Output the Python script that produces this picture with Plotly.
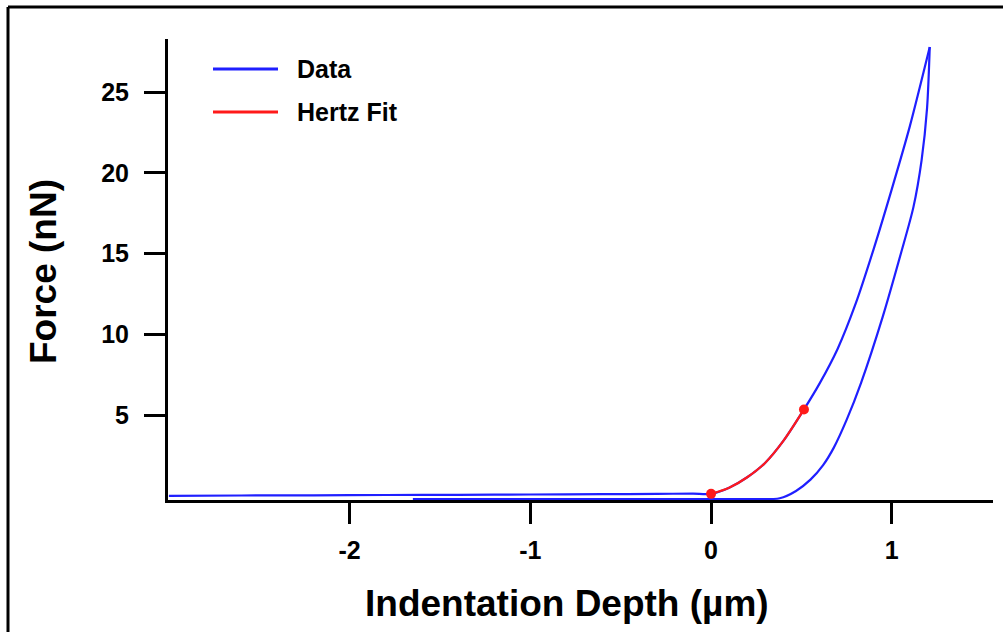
import plotly.graph_objects as go

# Approach (loading) curve, µm vs nN
approach_x = [-3.0, -2.6, -2.2, -1.8, -1.4, -1.0, -0.6, -0.3, -0.1, 0.0, 0.1, 0.2, 0.3, 0.4,
              0.514, 0.6, 0.7, 0.8, 0.9, 1.0, 1.1, 1.21]
approach_y = [0.0, 0.02, 0.03, 0.05, 0.06, 0.08, 0.1, 0.12, 0.13, 0.12, 0.5, 1.15, 2.05, 3.4,
              5.35, 6.95, 9.1, 11.9, 15.3, 19.0, 22.9, 27.8]

# Retract (unloading) curve
retract_x = [1.21, 1.195, 1.165, 1.12, 1.05, 0.95, 0.83, 0.75, 0.68, 0.62, 0.55, 0.47, 0.38,
             0.2, -0.2, -0.8, -1.3, -1.65]
retract_y = [27.8, 24.0, 20.8, 17.9, 15.0, 11.1, 7.0, 4.7, 3.0, 1.9, 1.0, 0.3, -0.15,
             -0.2, -0.2, -0.2, -0.2, -0.2]

# Hertz fit
fit_x = [0.0, 0.1, 0.2, 0.3, 0.4, 0.514]
fit_y = [0.12, 0.5, 1.15, 2.05, 3.4, 5.35]

x_ticks = [-2, -1, 0, 1]
y_ticks = [5, 10, 15, 20, 25]
legend_labels = ["Data", "Hertz Fit"]
legend_colors = ["#1f1fff", "#ff1a1a"]

FONT = "Liberation Sans, Arial, sans-serif"

fig = go.Figure()
fig.add_trace(go.Scatter(x=approach_x, y=approach_y, mode="lines",
                         line=dict(color=legend_colors[0], width=2.2, shape="spline", smoothing=0.8),
                         showlegend=False))
fig.add_trace(go.Scatter(x=retract_x, y=retract_y, mode="lines",
                         line=dict(color=legend_colors[0], width=2.2, shape="spline", smoothing=0.8),
                         showlegend=False))
fig.add_trace(go.Scatter(x=fit_x, y=fit_y, mode="lines",
                         line=dict(color=legend_colors[1], width=2.2, shape="spline", smoothing=0.8),
                         showlegend=False))
fig.add_trace(go.Scatter(x=[fit_x[0], fit_x[-1]], y=[fit_y[0], fit_y[-1]], mode="markers",
                         marker=dict(color=legend_colors[1], size=10), showlegend=False,
                         cliponaxis=False))

axis_common = dict(showline=True, linecolor="black", linewidth=3, ticks="outside",
                   ticklen=21, tickwidth=3, tickcolor="black", showgrid=False,
                   zeroline=False, tickfont=dict(family=FONT, size=25, color="black", weight="bold"))

fig.update_layout(
    width=1003, height=632,
    margin=dict(l=168, r=10, t=39, b=132),
    plot_bgcolor="white", paper_bgcolor="white",
    xaxis=dict(range=[-3.005, 1.56], tickvals=x_ticks, ticktext=[str(v) for v in x_ticks],
               ticklabelstandoff=5, **axis_common),
    yaxis=dict(range=[-0.26, 28.3], tickvals=y_ticks, ticktext=[str(v) for v in y_ticks],
               ticklabelstandoff=10, **axis_common),
    showlegend=False,
)

# Axis titles
fig.add_annotation(xref="paper", yref="paper", x=(567 - 168) / 825, y=(500 - 603) / 461,
                   xanchor="center", yanchor="middle", showarrow=False,
                   text="Indentation Depth (µm)",
                   font=dict(family=FONT, size=37, color="black", weight="bold"))
fig.add_annotation(xref="paper", yref="paper", x=(43 - 168) / 825, y=(500 - 272) / 461,
                   xanchor="center", yanchor="middle", showarrow=False, textangle=-90,
                   text="Force (nN)",
                   font=dict(family=FONT, size=37, color="black", weight="bold"))

# Legend drawn manually (line samples + labels)
for i, (lab, col) in enumerate(zip(legend_labels, legend_colors)):
    ypx = 69 + i * 43
    ypaper = (500 - ypx) / 461
    fig.add_shape(type="line", xref="paper", yref="paper",
                  x0=(213 - 168) / 825, x1=(278 - 168) / 825, y0=ypaper, y1=ypaper,
                  line=dict(color=col, width=3))
    fig.add_annotation(xref="paper", yref="paper", x=(295 - 168) / 825, y=ypaper,
                       xanchor="left", yanchor="middle", showarrow=False, text=lab,
                       font=dict(family=FONT, size=25, color="black", weight="bold"))

# Outer frame (left and top edges visible)
fig.add_shape(type="line", xref="paper", yref="paper",
              x0=(8 - 168) / 825, x1=(8 - 168) / 825, y0=(500 - 7) / 461, y1=(500 - 640) / 461,
              line=dict(color="black", width=3))
fig.add_shape(type="line", xref="paper", yref="paper",
              x0=(8 - 168) / 825, x1=(1010 - 168) / 825, y0=(500 - 7) / 461, y1=(500 - 7) / 461,
              line=dict(color="black", width=3))

fig.write_html("out.html")
